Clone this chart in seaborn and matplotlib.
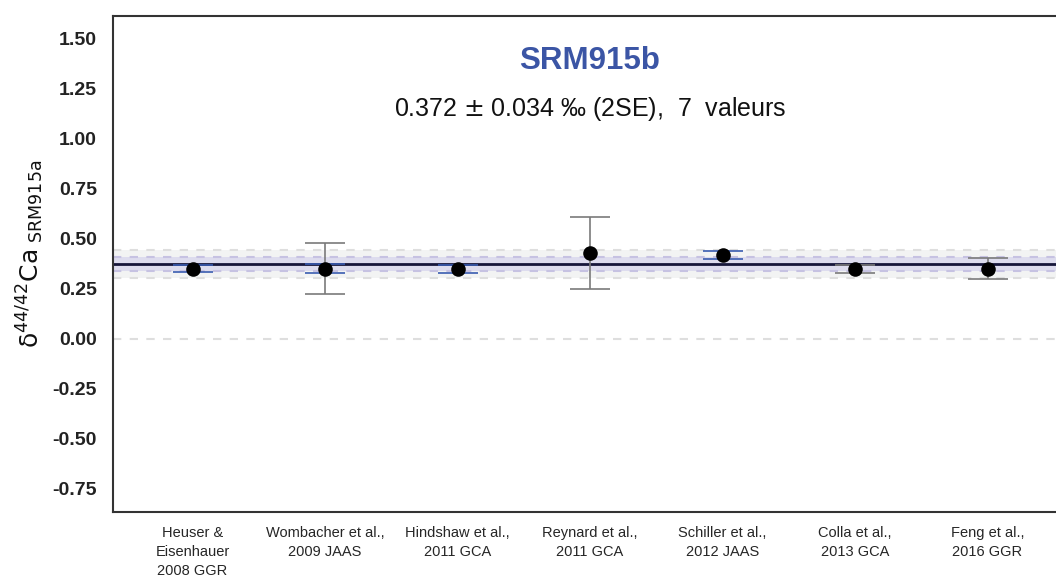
import matplotlib
matplotlib.use("Agg")
import matplotlib.pyplot as plt
import seaborn as sns
import numpy as np
import pandas as pd

# ---- data ----
references = ["Heuser &\nEisenhauer\n2008 GGR", "Wombacher et al.,\n2009 JAAS",
              "Hindshaw et al.,\n2011 GCA", "Reynard et al.,\n2011 GCA",
              "Schiller et al.,\n2012 JAAS", "Colla et al.,\n2013 GCA",
              "Feng et al.,\n2016 GGR"]
values = [0.350, 0.350, 0.349, 0.428, 0.418, 0.349, 0.350]
blue_low = [0.332, 0.327, 0.327, None, 0.397, None, None]
blue_high = [0.368, 0.372, 0.369, None, 0.437, None, None]
gray_low = [None, 0.223, None, 0.248, None, 0.327, 0.297]
gray_high = [None, 0.477, None, 0.606, None, 0.369, 0.402]
mean_value = 0.372
se2 = 0.034
outer_half = 0.070
yticks = [-0.75, -0.50, -0.25, 0.00, 0.25, 0.50, 0.75, 1.00, 1.25, 1.50]
title_text = "SRM915b"
subtitle_text = "0.372 $\\pm$ 0.034 \u2030 (2SE),  7  valeurs"

sns.set_theme(style="white")
plt.rcParams['font.family'] = ['Liberation Sans', 'DejaVu Sans']
plt.rcParams['mathtext.fontset'] = 'dejavusans'

W, H = 1056, 583
fig = plt.figure(figsize=(W / 100, H / 100), dpi=100)
ax = fig.add_axes([113 / W, 1 - 512 / H, (1067 - 113) / W, (512 - 16) / H])

n = len(references)
xs = np.arange(n)
ax.set_xlim(-0.6, n - 1 + 0.6)
ax.set_ylim(-0.865, 1.612)

# bands
ax.axhspan(mean_value - outer_half, mean_value + outer_half, color="#f2f3f3", zorder=0, lw=0)
ax.axhspan(mean_value - se2, mean_value + se2, color="#dddcee", zorder=0.5, lw=0)
for yv in (mean_value - outer_half, mean_value + outer_half, 0.0):
    ax.axhline(yv, color="#dedede", ls=(0, (4, 4)), lw=1.5, zorder=0.6)
for yv in (mean_value - se2, mean_value + se2):
    ax.axhline(yv, color="#c6c2e2", ls=(0, (4, 4)), lw=1.5, zorder=0.6)

ax.axhline(mean_value, color="#16163a", lw=2.0, zorder=2)

# error bars
for lows, highs, col in ((gray_low, gray_high, "#7a7a7a"), (blue_low, blue_high, "#3a5cb0")):
    for i in range(n):
        if lows[i] is None:
            continue
        v = values[i]
        ax.errorbar([xs[i]], [v], yerr=[[v - lows[i]], [highs[i] - v]], fmt="none",
                    ecolor=col, elinewidth=1.2, capsize=14.4, capthick=1.2, zorder=3)

df = pd.DataFrame({"x": xs, "value": values})
sns.scatterplot(data=df, x="x", y="value", color="black", s=110, edgecolor="black",
                linewidth=0, zorder=4, ax=ax, legend=False)

ax.set_xticks(xs)
ax.set_xticklabels(references, fontsize=10.5, linespacing=1.45)
ax.set_yticks(yticks)
ax.set_yticklabels([f"{t:.2f}" for t in yticks], fontsize=14, fontweight="bold", color="#222222")
ax.tick_params(axis="both", which="both", direction="out", length=5, width=1.2, color="#333333")
ax.tick_params(axis="y", pad=6.5)
ax.tick_params(axis="x", pad=5)
ax.set_xlabel("")
ax.set_ylabel("\u03b4$^{44/42}$Ca$_{\\ \\mathrm{SRM915a}}$", fontsize=18, color="#111111",
              family=['DejaVu Sans'])
ax.yaxis.set_label_coords(-0.070, 0.52)

for side in ("left", "bottom", "top", "right"):
    ax.spines[side].set_visible(True)
    ax.spines[side].set_color("#333333")
    ax.spines[side].set_linewidth(1.5)

ax.text(0.5, 1 - (61 - 16) / 496, title_text, transform=ax.transAxes, ha="center", va="center",
        fontsize=22.5, fontweight="bold", color="#3b55a5")
ax.text(0.5, 1 - (109 - 16) / 496, subtitle_text, transform=ax.transAxes, ha="center", va="center",
        fontsize=18, color="#111111")

fig.savefig("out.png", dpi=100)
